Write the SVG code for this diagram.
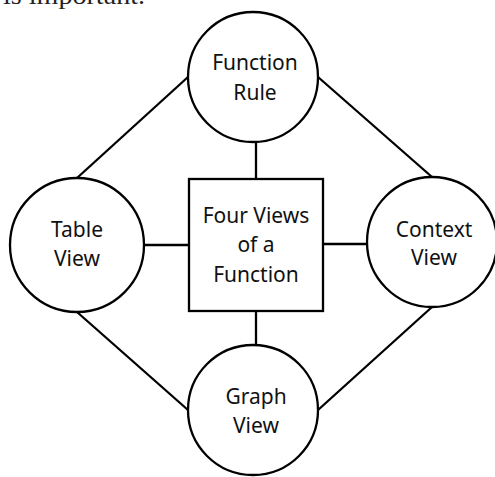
<svg xmlns="http://www.w3.org/2000/svg" width="495" height="477" viewBox="0 0 495 477">
  <style>
    .shape { fill: #ffffff; stroke: #000000; stroke-width: 2.3; }
    .link { stroke: #000000; stroke-width: 2.3; fill: none; }
    .label { font-family: "Noto Sans", "Open Sans", sans-serif; font-size: 21px; fill: #111111; text-anchor: middle; }
    .body { font-family: "Liberation Serif", serif; font-size: 26px; fill: #222222; }
  </style>

  <!-- running text above the figure -->
  <text class="body" x="3" y="4" textLength="142" lengthAdjust="spacingAndGlyphs">is important.</text>

  <!-- connectors -->
  <g id="connectors">
    <line class="link" x1="77" y1="178" x2="188" y2="77"/>
    <line class="link" x1="318" y1="77" x2="432" y2="177"/>
    <line class="link" x1="77" y1="312" x2="188" y2="410"/>
    <line class="link" x1="432" y1="307" x2="318" y2="410"/>
    <line class="link" x1="256" y1="142" x2="256" y2="179"/>
    <line class="link" x1="256" y1="311" x2="256" y2="345"/>
    <line class="link" x1="144" y1="245" x2="189" y2="245"/>
    <line class="link" x1="323" y1="244" x2="367" y2="244"/>
  </g>

  <g id="function-rule">
    <circle class="shape" cx="253" cy="77" r="65"/>
    <text class="label" x="255" y="70">Function</text>
    <text class="label" x="255" y="100">Rule</text>
  </g>

  <g id="table-view">
    <circle class="shape" cx="77" cy="245" r="67"/>
    <text class="label" x="77" y="237">Table</text>
    <text class="label" x="77" y="266">View</text>
  </g>

  <g id="four-views">
    <rect class="shape" x="189" y="179" width="134" height="132"/>
    <text class="label" x="256" y="223">Four Views</text>
    <text class="label" x="256" y="252">of a</text>
    <text class="label" x="256" y="282">Function</text>
  </g>

  <g id="context-view">
    <circle class="shape" cx="432" cy="242" r="65"/>
    <text class="label" x="434" y="237">Context</text>
    <text class="label" x="434" y="265">View</text>
  </g>

  <g id="graph-view">
    <circle class="shape" cx="253" cy="410" r="65"/>
    <text class="label" x="256" y="404">Graph</text>
    <text class="label" x="256" y="433">View</text>
  </g>
</svg>
